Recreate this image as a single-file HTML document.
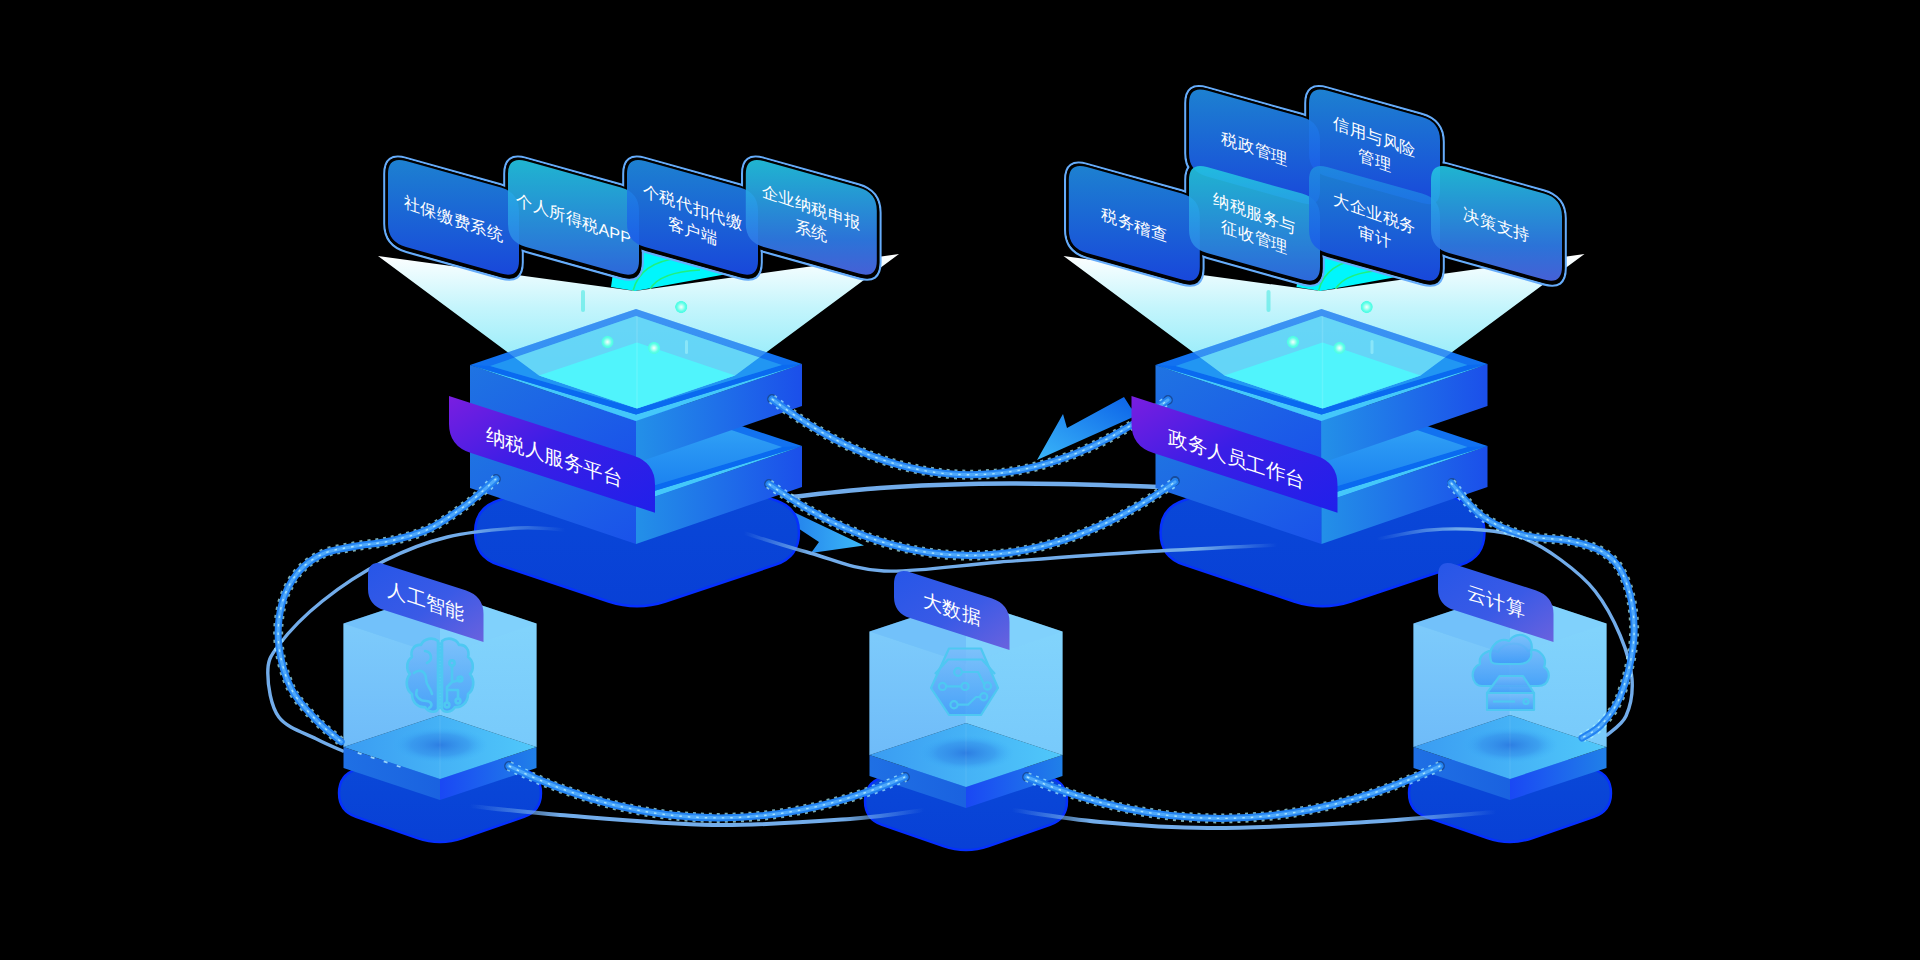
<!DOCTYPE html>
<html><head><meta charset="utf-8"><style>html,body{margin:0;padding:0;background:#000;overflow:hidden}svg{display:block}</style></head>
<body><svg width="1920" height="960" viewBox="0 0 1920 960">
<defs><linearGradient id="gLeftFace" x1="0" y1="0" x2="1" y2="1" gradientUnits="objectBoundingBox"><stop offset="0" stop-color="#1f74e2"/><stop offset="1" stop-color="#1a52ea"/></linearGradient><linearGradient id="gRightFace" x1="0" y1="0" x2="1" y2="0" gradientUnits="objectBoundingBox"><stop offset="0" stop-color="#2390e8"/><stop offset="1" stop-color="#1b4fea"/></linearGradient><linearGradient id="gRibbon" x1="0" y1="0" x2="1" y2="1" gradientUnits="objectBoundingBox"><stop offset="0" stop-color="#7a1ee0"/><stop offset="0.45" stop-color="#3a1ee6"/><stop offset="1" stop-color="#2020ea"/></linearGradient><linearGradient id="gCone" x1="0" y1="0" x2="0" y2="1" gradientUnits="objectBoundingBox"><stop offset="0" stop-color="#ffffff"/><stop offset="0.35" stop-color="#c4f5fc"/><stop offset="0.7" stop-color="#96ecfa"/><stop offset="1" stop-color="#74e2f8"/></linearGradient><linearGradient id="gCardA" x1="0" y1="0" x2="0" y2="1" gradientUnits="objectBoundingBox"><stop offset="0" stop-color="#1f8ae0"/><stop offset="1" stop-color="#1a4deb"/></linearGradient><linearGradient id="gCardB" x1="0" y1="0" x2="0" y2="1" gradientUnits="objectBoundingBox"><stop offset="0" stop-color="#22c2e0"/><stop offset="1" stop-color="#3070ea"/></linearGradient><linearGradient id="gCardC" x1="0" y1="0" x2="0" y2="1" gradientUnits="objectBoundingBox"><stop offset="0" stop-color="#22c2e0"/><stop offset="0.7" stop-color="#2f7be8"/><stop offset="1" stop-color="#4a68e6"/></linearGradient><linearGradient id="gTag" x1="0" y1="0" x2="1" y2="1" gradientUnits="objectBoundingBox"><stop offset="0" stop-color="#2656e8"/><stop offset="0.55" stop-color="#3a5ae6"/><stop offset="1" stop-color="#6a62de"/></linearGradient><linearGradient id="gCubeL" x1="0" y1="0" x2="0" y2="1" gradientUnits="objectBoundingBox"><stop offset="0" stop-color="#86d2fc"/><stop offset="1" stop-color="#6cb6f8"/></linearGradient><linearGradient id="gCubeR" x1="0" y1="0" x2="0" y2="1" gradientUnits="objectBoundingBox"><stop offset="0" stop-color="#86d8fc"/><stop offset="1" stop-color="#74c6fa"/></linearGradient><linearGradient id="gSlabTop" x1="0" y1="0" x2="1" y2="0" gradientUnits="objectBoundingBox"><stop offset="0" stop-color="#3a9cf2"/><stop offset="1" stop-color="#50c8fa"/></linearGradient><linearGradient id="gSlabL" x1="0" y1="0" x2="1" y2="0" gradientUnits="objectBoundingBox"><stop offset="0" stop-color="#1f70e4"/><stop offset="1" stop-color="#1a62e0"/></linearGradient><linearGradient id="gSlabR" x1="0" y1="0" x2="1" y2="0" gradientUnits="objectBoundingBox"><stop offset="0" stop-color="#1a48f4"/><stop offset="1" stop-color="#2080e8"/></linearGradient><linearGradient id="gArrow1" x1="0" y1="0" x2="1" y2="0" gradientUnits="objectBoundingBox"><stop offset="0" stop-color="#1868e6"/><stop offset="1" stop-color="#3cbaf8"/></linearGradient><linearGradient id="gArrow2" x1="1" y1="0" x2="0" y2="1" gradientUnits="objectBoundingBox"><stop offset="0" stop-color="#0a60e8"/><stop offset="1" stop-color="#3ab6f8"/></linearGradient><linearGradient id="gGapTop" x1="0" y1="0" x2="0" y2="1" gradientUnits="objectBoundingBox"><stop offset="0" stop-color="#3ab4f8"/><stop offset="0.5" stop-color="#2a98f4"/><stop offset="1" stop-color="#1a80f0"/></linearGradient><clipPath id="clipTop"><polygon points="636,309 802,364 636,421 470,365"/></clipPath><clipPath id="clipWalls"><polygon points="636,316 782,365 637,408.4 490,366"/></clipPath><linearGradient id="gShadow" x1="0" y1="0" x2="0" y2="1" gradientUnits="objectBoundingBox"><stop offset="0" stop-color="#0a4ad8"/><stop offset="1" stop-color="#0840d6"/></linearGradient><radialGradient id="gOrb" cx="0.5" cy="0.5" r="0.5"><stop offset="0" stop-color="#f4fffe" stop-opacity="1"/><stop offset="0.3" stop-color="#b8fff2" stop-opacity="1"/><stop offset="0.7" stop-color="#5cffe8" stop-opacity="1"/><stop offset="0.92" stop-color="#50fce4" stop-opacity="1"/><stop offset="1" stop-color="#50fce4" stop-opacity="0.3"/></radialGradient><radialGradient id="gFloorShadow" cx="0.5" cy="0.5" r="0.5"><stop offset="0" stop-color="#2a78e0" stop-opacity="0.9"/><stop offset="0.6" stop-color="#3088e8" stop-opacity="0.5"/><stop offset="1" stop-color="#3ab0f8" stop-opacity="0"/></radialGradient><linearGradient id="gIcon" x1="0" y1="0" x2="0" y2="1" gradientUnits="objectBoundingBox"><stop offset="0" stop-color="#7cbcfa"/><stop offset="1" stop-color="#3a98f8"/></linearGradient><linearGradient id="rg1" x1="565" y1="0" x2="470" y2="0" gradientUnits="userSpaceOnUse"><stop offset="0" stop-color="#72acea" stop-opacity="0"/><stop offset="1" stop-color="#72acea" stop-opacity="1"/></linearGradient><linearGradient id="rg2" x1="470" y1="0" x2="924" y2="0" gradientUnits="userSpaceOnUse"><stop offset="0" stop-color="#72acea" stop-opacity="0"/><stop offset="0.2" stop-color="#72acea" stop-opacity="1"/><stop offset="0.82" stop-color="#72acea" stop-opacity="1"/><stop offset="1" stop-color="#72acea" stop-opacity="0"/></linearGradient><linearGradient id="rg3" x1="1012" y1="0" x2="1496" y2="0" gradientUnits="userSpaceOnUse"><stop offset="0" stop-color="#72acea" stop-opacity="0"/><stop offset="0.16" stop-color="#72acea" stop-opacity="1"/><stop offset="0.8" stop-color="#72acea" stop-opacity="1"/><stop offset="1" stop-color="#72acea" stop-opacity="0"/></linearGradient><linearGradient id="rg4" x1="1377" y1="0" x2="1460" y2="0" gradientUnits="userSpaceOnUse"><stop offset="0" stop-color="#72acea" stop-opacity="0"/><stop offset="1" stop-color="#72acea" stop-opacity="1"/></linearGradient><linearGradient id="rg5" x1="744" y1="0" x2="1277" y2="0" gradientUnits="userSpaceOnUse"><stop offset="0" stop-color="#72acea" stop-opacity="0"/><stop offset="0.12" stop-color="#72acea" stop-opacity="1"/><stop offset="0.85" stop-color="#72acea" stop-opacity="1"/><stop offset="1" stop-color="#72acea" stop-opacity="0"/></linearGradient></defs>
<rect width="1920" height="960" fill="#000"/>
<path d="M760,496 L864,545.5 L811,553 L819,542 L800,529.5 L760,514 Z" fill="url(#gArrow1)"/>
<g transform="translate(0,0)"><path d="M475.0,532.5 Q475.0,508.0 498.2,500.3 L608.5,463.5 Q637.0,454.0 665.5,463.5 L775.8,500.3 Q799.0,508.0 799.0,532.5 L799.0,532.5 Q799.0,557.0 775.8,564.7 L665.5,601.5 Q637.0,611.0 608.5,601.5 L498.2,564.7 Q475.0,557.0 475.0,532.5 Z" fill="url(#gShadow)" stroke="#0630ff" stroke-width="2.4"/></g>
<g transform="translate(685.5,0)"><path d="M475.0,532.5 Q475.0,508.0 498.2,500.3 L608.5,463.5 Q637.0,454.0 665.5,463.5 L775.8,500.3 Q799.0,508.0 799.0,532.5 L799.0,532.5 Q799.0,557.0 775.8,564.7 L665.5,601.5 Q637.0,611.0 608.5,601.5 L498.2,564.7 Q475.0,557.0 475.0,532.5 Z" fill="url(#gShadow)" stroke="#0630ff" stroke-width="2.4"/></g>
<g transform="translate(0,0)"><path d="M339.0,793.0 Q339.0,775.0 356.1,769.3 L417.3,748.7 Q440.0,741.0 462.7,748.7 L523.9,769.3 Q541.0,775.0 541.0,793.0 L541.0,793.0 Q541.0,811.0 524.0,816.9 L462.7,838.1 Q440.0,846.0 417.3,838.1 L356.0,816.9 Q339.0,811.0 339.0,793.0 Z" fill="url(#gShadow)" stroke="#0630ff" stroke-width="2.4"/></g>
<g transform="translate(526,8)"><path d="M339.0,793.0 Q339.0,775.0 356.1,769.3 L417.3,748.7 Q440.0,741.0 462.7,748.7 L523.9,769.3 Q541.0,775.0 541.0,793.0 L541.0,793.0 Q541.0,811.0 524.0,816.9 L462.7,838.1 Q440.0,846.0 417.3,838.1 L356.0,816.9 Q339.0,811.0 339.0,793.0 Z" fill="url(#gShadow)" stroke="#0630ff" stroke-width="2.4"/></g>
<g transform="translate(1070,0)"><path d="M339.0,793.0 Q339.0,775.0 356.1,769.3 L417.3,748.7 Q440.0,741.0 462.7,748.7 L523.9,769.3 Q541.0,775.0 541.0,793.0 L541.0,793.0 Q541.0,811.0 524.0,816.9 L462.7,838.1 Q440.0,846.0 417.3,838.1 L356.0,816.9 Q339.0,811.0 339.0,793.0 Z" fill="url(#gShadow)" stroke="#0630ff" stroke-width="2.4"/></g>
<path d="M565.0,530.0 C557.3,529.7 538.6,526.8 519.0,528.0 C499.4,529.2 469.8,531.6 447.5,537.0 C425.2,542.4 405.8,549.9 385.0,560.6 C364.2,571.3 340.2,586.9 322.5,601.0 C304.8,615.1 287.9,633.0 278.8,645.0 C269.6,657.0 267.8,661.0 267.8,673.0 C267.8,685.0 270.7,706.0 278.8,717.0 C286.8,728.0 305.3,733.1 316.0,738.8 C326.7,744.4 338.3,749.0 342.8,751.0" fill="none" stroke="url(#rg1)" stroke-width="3.4" stroke-linecap="round"/>
<path d="M470.0,806.0 C485.0,807.5 519.5,811.8 560.0,815.0 C600.5,818.2 664.7,824.3 713.0,825.0 C761.3,825.7 814.8,821.5 850.0,819.0 C885.2,816.5 911.7,811.5 924.0,810.0" fill="none" stroke="url(#rg2)" stroke-width="4" stroke-linecap="round"/>
<path d="M1012.0,810.0 C1026.7,812.0 1067.3,819.0 1100.0,822.0 C1132.7,825.0 1166.3,827.8 1208.0,828.0 C1249.7,828.2 1302.0,825.7 1350.0,823.0 C1398.0,820.3 1471.7,813.8 1496.0,812.0" fill="none" stroke="url(#rg3)" stroke-width="4" stroke-linecap="round"/>
<path d="M1377.0,539.0 C1385.8,537.5 1412.5,531.5 1430.0,530.0 C1447.5,528.5 1466.5,528.7 1482.0,530.0 C1497.5,531.3 1509.8,533.0 1523.0,538.0 C1536.2,543.0 1549.0,551.2 1561.0,560.0 C1573.0,568.8 1585.2,578.5 1595.0,591.0 C1604.8,603.5 1613.8,620.3 1620.0,635.0 C1626.2,649.7 1631.0,665.5 1632.0,679.0 C1633.0,692.5 1630.2,706.7 1626.0,716.0 C1621.8,725.3 1610.2,731.8 1607.0,735.0" fill="none" stroke="url(#rg4)" stroke-width="3.4" stroke-linecap="round"/>
<path d="M790.0,497.0 C805.0,495.5 850.0,490.2 880.0,488.0 C910.0,485.8 940.0,484.7 970.0,484.0 C1000.0,483.3 1028.3,483.5 1060.0,484.0 C1091.7,484.5 1143.3,486.5 1160.0,487.0" fill="none" stroke="#72acea" stroke-width="4.5" stroke-linecap="round"/>
<path d="M744.0,533.0 C755.0,536.3 786.7,546.7 810.0,553.0 C833.3,559.3 852.3,569.5 884.0,571.0 C915.7,572.5 957.3,565.2 1000.0,562.0 C1042.7,558.8 1093.8,554.8 1140.0,552.0 C1186.2,549.2 1254.2,546.2 1277.0,545.0" fill="none" stroke="url(#rg5)" stroke-width="3.4" stroke-linecap="round"/>
<path d="M1037,460 L1063,414 L1067,428 L1124,397 L1131,408 L1140,414 Z" fill="url(#gArrow2)"/>
<g transform="translate(0,0)">
<polygon points="611.0,287.0 616.0,252.0 700.0,252.0 727.0,274.0 635.0,291.0" fill="#00f6fc"/>
<path d="M633,291 Q640,262 680,258" fill="none" stroke="#20f080" stroke-width="1.5"/><path d="M650,289 Q660,272 700,270" fill="none" stroke="#20f080" stroke-width="1.5"/>
<polygon points="378.0,256.0 635.0,291.0 899.0,254.0 735.0,375.5 637.0,408.4 539.0,375.6" fill="url(#gCone)"/>
</g>
<g transform="translate(685.5,0)">
<polygon points="611.0,287.0 616.0,252.0 700.0,252.0 727.0,274.0 635.0,291.0" fill="#00f6fc"/>
<path d="M633,291 Q640,262 680,258" fill="none" stroke="#20f080" stroke-width="1.5"/><path d="M650,289 Q660,272 700,270" fill="none" stroke="#20f080" stroke-width="1.5"/>
<polygon points="378.0,256.0 635.0,291.0 899.0,254.0 735.0,375.5 637.0,408.4 539.0,375.6" fill="url(#gCone)"/>
</g>
<g transform="translate(0,0)">
<polygon points="470.0,447.0 636.0,503.0 636.0,544.0 470.0,488.0" fill="url(#gLeftFace)"/>
<polygon points="636.0,503.0 802.0,446.0 802.0,487.0 636.0,544.0" fill="url(#gRightFace)"/>
<polygon points="636.0,391.0 802.0,446.0 636.0,503.0 470.0,447.0" fill="#1272f0"/>
<polygon points="470.0,447.0 636.0,503.0 802.0,446.0 636.0,496.5" fill="#44c8fa"/>
<polygon points="470.0,447.0 636.0,496.5 802.0,446.0 782.0,447.0 637.0,490.4 490.0,448.0" fill="#0a6af0"/>
<polygon points="636.0,398.0 782.0,447.0 637.0,490.4 490.0,448.0" fill="url(#gGapTop)"/>
<polygon points="470.0,365.0 636.0,421.0 636.0,463.0 470.0,407.0" fill="url(#gLeftFace)"/>
<polygon points="636.0,421.0 802.0,364.0 802.0,406.0 636.0,463.0" fill="url(#gRightFace)"/>
<polygon points="636.0,309.0 802.0,364.0 636.0,421.0 470.0,365.0" fill="#1272f0"/>
<polygon points="470.0,365.0 636.0,421.0 802.0,364.0 636.0,414.5" fill="#44c8fa"/>
<polygon points="470.0,365.0 636.0,414.5 802.0,364.0 782.0,365.0 637.0,408.4 490.0,366.0" fill="#0a6af0"/>
<polygon points="636.0,316.0 782.0,365.0 637.0,408.4 490.0,366.0" fill="#2196f3"/>
<polygon points="378.0,256.0 635.0,291.0 899.0,254.0 735.0,375.5 637.0,408.4 539.0,375.6" fill="url(#gCone)" opacity="0.25" clip-path="url(#clipTop)"/>
<polygon points="378.0,256.0 635.0,291.0 899.0,254.0 735.0,375.5 637.0,408.4 539.0,375.6" fill="#6ee0f8" opacity="0.8" clip-path="url(#clipWalls)"/>
<polygon points="637.0,342.5 735.0,375.5 637.0,408.4 539.0,375.6" fill="#50f4fc"/>
<line x1="637" y1="316" x2="637" y2="408" stroke="#ffffff" stroke-opacity="0.12" stroke-width="1.5"/>
<circle cx="772" cy="399" r="4" fill="#2a8cf4" stroke="#184c9c" stroke-width="1.8"/>
<circle cx="769" cy="484" r="4" fill="#2a8cf4" stroke="#184c9c" stroke-width="1.8"/>
<circle cx="496" cy="479" r="4" fill="#2a8cf4" stroke="#184c9c" stroke-width="1.8"/>
</g>
<g transform="translate(685.5,0)">
<polygon points="470.0,447.0 636.0,503.0 636.0,544.0 470.0,488.0" fill="url(#gLeftFace)"/>
<polygon points="636.0,503.0 802.0,446.0 802.0,487.0 636.0,544.0" fill="url(#gRightFace)"/>
<polygon points="636.0,391.0 802.0,446.0 636.0,503.0 470.0,447.0" fill="#1272f0"/>
<polygon points="470.0,447.0 636.0,503.0 802.0,446.0 636.0,496.5" fill="#44c8fa"/>
<polygon points="470.0,447.0 636.0,496.5 802.0,446.0 782.0,447.0 637.0,490.4 490.0,448.0" fill="#0a6af0"/>
<polygon points="636.0,398.0 782.0,447.0 637.0,490.4 490.0,448.0" fill="url(#gGapTop)"/>
<polygon points="470.0,365.0 636.0,421.0 636.0,463.0 470.0,407.0" fill="url(#gLeftFace)"/>
<polygon points="636.0,421.0 802.0,364.0 802.0,406.0 636.0,463.0" fill="url(#gRightFace)"/>
<polygon points="636.0,309.0 802.0,364.0 636.0,421.0 470.0,365.0" fill="#1272f0"/>
<polygon points="470.0,365.0 636.0,421.0 802.0,364.0 636.0,414.5" fill="#44c8fa"/>
<polygon points="470.0,365.0 636.0,414.5 802.0,364.0 782.0,365.0 637.0,408.4 490.0,366.0" fill="#0a6af0"/>
<polygon points="636.0,316.0 782.0,365.0 637.0,408.4 490.0,366.0" fill="#2196f3"/>
<polygon points="378.0,256.0 635.0,291.0 899.0,254.0 735.0,375.5 637.0,408.4 539.0,375.6" fill="url(#gCone)" opacity="0.25" clip-path="url(#clipTop)"/>
<polygon points="378.0,256.0 635.0,291.0 899.0,254.0 735.0,375.5 637.0,408.4 539.0,375.6" fill="#6ee0f8" opacity="0.8" clip-path="url(#clipWalls)"/>
<polygon points="637.0,342.5 735.0,375.5 637.0,408.4 539.0,375.6" fill="#50f4fc"/>
<line x1="637" y1="316" x2="637" y2="408" stroke="#ffffff" stroke-opacity="0.12" stroke-width="1.5"/>
<circle cx="482.5" cy="400" r="4" fill="#2a8cf4" stroke="#184c9c" stroke-width="1.8"/>
<circle cx="489.5" cy="481" r="4" fill="#2a8cf4" stroke="#184c9c" stroke-width="1.8"/>
<circle cx="766.5" cy="483" r="4" fill="#2a8cf4" stroke="#184c9c" stroke-width="1.8"/>
</g>
<g transform="translate(0,0)">
<circle cx="681.2" cy="307" r="6.2" fill="url(#gOrb)"/>
<circle cx="607.5" cy="342" r="6.2" fill="url(#gOrb)"/>
<circle cx="654" cy="348" r="6.2" fill="url(#gOrb)"/>
<rect x="581" y="290" width="4" height="22" rx="2" fill="#40e8e0" opacity="0.55"/>
<rect x="685" y="340" width="3" height="14" rx="1.5" fill="#a8f4fc" opacity="0.55"/>
</g>
<g transform="translate(685.5,0)">
<circle cx="681.2" cy="307" r="6.2" fill="url(#gOrb)"/>
<circle cx="607.5" cy="342" r="6.2" fill="url(#gOrb)"/>
<circle cx="654" cy="348" r="6.2" fill="url(#gOrb)"/>
<rect x="581" y="290" width="4" height="22" rx="2" fill="#40e8e0" opacity="0.55"/>
<rect x="685" y="340" width="3" height="14" rx="1.5" fill="#a8f4fc" opacity="0.55"/>
</g>
<g transform="translate(0,0)">
<polygon points="343.5,747.0 440.0,779.0 440.0,800.0 343.5,768.0" fill="url(#gSlabL)"/>
<polygon points="440.0,779.0 536.5,747.0 536.5,768.0 440.0,800.0" fill="url(#gSlabR)"/>
<polygon points="343.5,623.5 440.0,591.5 440.0,715.0 343.5,747.0" fill="#72c2fa"/>
<polygon points="440.0,591.5 536.5,623.5 536.5,747.0 440.0,715.0" fill="#7ccefc"/>
<polygon points="440.0,715.0 536.5,747.0 440.0,779.0 343.5,747.0" fill="url(#gSlabTop)"/>
<ellipse cx="440" cy="745" rx="48" ry="18" fill="url(#gFloorShadow)"/>
<line x1="440" y1="715" x2="440" y2="779" stroke="#ffffff" stroke-opacity="0.08"/>
<polygon points="343.5,623.5 440.0,655.5 440.0,715.0 343.5,747.0" fill="url(#gCubeL)" fill-opacity="0.55"/>
<polygon points="440.0,655.5 536.5,623.5 536.5,747.0 440.0,715.0" fill="url(#gCubeR)" fill-opacity="0.55"/>
<polygon points="343.5,623.5 440.0,655.5 440.0,591.5" fill="#74c0f9" fill-opacity="0.35"/>
<polygon points="440.0,655.5 536.5,623.5 440.0,591.5" fill="#8ad6fc" fill-opacity="0.35"/>
<line x1="440" y1="655.5" x2="440" y2="715" stroke="#ffffff" stroke-opacity="0.15"/>
<g fill="url(#gIcon)" fill-opacity="0.75" stroke="#4ec8f2" stroke-width="2.6" stroke-linejoin="round" stroke-linecap="round">
<path d="M438,641 C433,637 424,638 421,645 C414,644 410,651 412,657 C406,661 406,670 410,674 C405,680 406,690 412,694 C412,702 418,708 425,707 C429,713 436,713 438,709 Z"/>
<path d="M442,641 C447,637 456,638 459,645 C466,644 470,651 468,657 C474,661 474,670 470,674 C475,680 474,690 468,694 C468,702 462,708 455,707 C451,713 444,713 442,709 Z"/>
<path d="M440,643 V709" stroke-width="2" stroke-dasharray="1.6 1.6" fill="none"/>
<path d="M425,651 C432,652 433,660 427,663" fill="none"/>
<path d="M414,673 C420,668 426,672 426,679 C426,686 431,688 432,694" fill="none"/>
<path d="M417,690 C414,697 421,701 426,701 C432,701 433,706 429,708" fill="none"/>
<path d="M452,666 V682 L447,687 V702 M447,690 H458 V698 M452,682 L460,680" fill="none"/>
<circle cx="452" cy="663" r="2.6" fill="none"/><circle cx="460" cy="679" r="2.4" fill="none"/><circle cx="458" cy="701" r="2.4" fill="none"/><circle cx="447" cy="705" r="2.4" fill="none"/>
</g>
<circle cx="509" cy="766" r="4" fill="#2a8cf4" stroke="#184c9c" stroke-width="1.8"/>
<path d="M385.0,564.4 L465.5,590.2 Q483.5,596.0 483.5,614.0 L483.5,642.0 L384.0,610.1 Q368.0,605.0 368.0,589.0 L368.0,576.0 Q368.0,559.0 385.0,564.4 Z" fill="url(#gTag)"/>
<text transform="matrix(1,0.34,0,1,426,601)" font-family="Liberation Sans, sans-serif" font-size="19" fill="#ffffff" text-anchor="middle" dominant-baseline="central">人工智能</text>
</g>
<g transform="translate(526,8)">
<polygon points="343.5,747.0 440.0,779.0 440.0,800.0 343.5,768.0" fill="url(#gSlabL)"/>
<polygon points="440.0,779.0 536.5,747.0 536.5,768.0 440.0,800.0" fill="url(#gSlabR)"/>
<polygon points="343.5,623.5 440.0,591.5 440.0,715.0 343.5,747.0" fill="#72c2fa"/>
<polygon points="440.0,591.5 536.5,623.5 536.5,747.0 440.0,715.0" fill="#7ccefc"/>
<polygon points="440.0,715.0 536.5,747.0 440.0,779.0 343.5,747.0" fill="url(#gSlabTop)"/>
<ellipse cx="440" cy="745" rx="48" ry="18" fill="url(#gFloorShadow)"/>
<line x1="440" y1="715" x2="440" y2="779" stroke="#ffffff" stroke-opacity="0.08"/>
<polygon points="343.5,623.5 440.0,655.5 440.0,715.0 343.5,747.0" fill="url(#gCubeL)" fill-opacity="0.55"/>
<polygon points="440.0,655.5 536.5,623.5 536.5,747.0 440.0,715.0" fill="url(#gCubeR)" fill-opacity="0.55"/>
<polygon points="343.5,623.5 440.0,655.5 440.0,591.5" fill="#74c0f9" fill-opacity="0.35"/>
<polygon points="440.0,655.5 536.5,623.5 440.0,591.5" fill="#8ad6fc" fill-opacity="0.35"/>
<line x1="440" y1="655.5" x2="440" y2="715" stroke="#ffffff" stroke-opacity="0.15"/>
<g fill="url(#gIcon)" fill-opacity="0.75" stroke="#4ec8f2" stroke-width="2.2" stroke-linejoin="round">
<polygon points="423,640.5 455,640.5 472,680 455,707 423,707 405,680"/>
<path d="M409,666 L422,651.5 H456 L469,666" fill="none"/>
<path d="M436,664 H452 L459,678 M420,678.4 H435 M432,696.7 H442 L450,689 H454" fill="none"/>
<circle cx="432" cy="664" r="3.8" fill="none"/><circle cx="461.5" cy="678" r="3.6" fill="none"/><circle cx="416.5" cy="678.4" r="3.6" fill="none"/><circle cx="439" cy="678.4" r="3.6" fill="none"/><circle cx="428" cy="696.7" r="3.6" fill="none"/><circle cx="457.7" cy="688.7" r="3.6" fill="none"/>
</g>
<circle cx="379" cy="769" r="4" fill="#2a8cf4" stroke="#184c9c" stroke-width="1.8"/>
<circle cx="501" cy="769" r="4" fill="#2a8cf4" stroke="#184c9c" stroke-width="1.8"/>
<path d="M385.0,564.4 L465.5,590.2 Q483.5,596.0 483.5,614.0 L483.5,642.0 L384.0,610.1 Q368.0,605.0 368.0,589.0 L368.0,576.0 Q368.0,559.0 385.0,564.4 Z" fill="url(#gTag)"/>
<text transform="matrix(1,0.34,0,1,426,601)" font-family="Liberation Sans, sans-serif" font-size="19" fill="#ffffff" text-anchor="middle" dominant-baseline="central">大数据</text>
</g>
<g transform="translate(1070,0)">
<polygon points="343.5,747.0 440.0,779.0 440.0,800.0 343.5,768.0" fill="url(#gSlabL)"/>
<polygon points="440.0,779.0 536.5,747.0 536.5,768.0 440.0,800.0" fill="url(#gSlabR)"/>
<polygon points="343.5,623.5 440.0,591.5 440.0,715.0 343.5,747.0" fill="#72c2fa"/>
<polygon points="440.0,591.5 536.5,623.5 536.5,747.0 440.0,715.0" fill="#7ccefc"/>
<polygon points="440.0,715.0 536.5,747.0 440.0,779.0 343.5,747.0" fill="url(#gSlabTop)"/>
<ellipse cx="440" cy="745" rx="48" ry="18" fill="url(#gFloorShadow)"/>
<line x1="440" y1="715" x2="440" y2="779" stroke="#ffffff" stroke-opacity="0.08"/>
<polygon points="343.5,623.5 440.0,655.5 440.0,715.0 343.5,747.0" fill="url(#gCubeL)" fill-opacity="0.55"/>
<polygon points="440.0,655.5 536.5,623.5 536.5,747.0 440.0,715.0" fill="url(#gCubeR)" fill-opacity="0.55"/>
<polygon points="343.5,623.5 440.0,655.5 440.0,591.5" fill="#74c0f9" fill-opacity="0.35"/>
<polygon points="440.0,655.5 536.5,623.5 440.0,591.5" fill="#8ad6fc" fill-opacity="0.35"/>
<line x1="440" y1="655.5" x2="440" y2="715" stroke="#ffffff" stroke-opacity="0.15"/>
<g fill="url(#gIcon)" fill-opacity="0.8" stroke="#4ec8f2" stroke-width="2.2" stroke-linejoin="round">
<path d="M412,686 C401,686 399,668 410,664 C408,654 420,648 428,652 C434,641 452,641 458,651 C468,647 478,657 474,667 C482,671 480,686 468,686 Z"/>
<path d="M421,661 C417,647 429,637 439,641 C447,629 466,636 461,652 C463,659 457,664 449,664 L430,664 C425,664 421,663 421,661 Z"/>
<polygon points="429.7,676 453,676 464,693 417,693"/>
<rect x="417" y="693" width="47" height="17"/>
<path d="M423,701.5 H445" fill="none"/><circle cx="456" cy="701.5" r="2.5" fill="none"/>
</g>
<circle cx="370" cy="766" r="4" fill="#2a8cf4" stroke="#184c9c" stroke-width="1.8"/>
<path d="M385.0,564.4 L465.5,590.2 Q483.5,596.0 483.5,614.0 L483.5,642.0 L384.0,610.1 Q368.0,605.0 368.0,589.0 L368.0,576.0 Q368.0,559.0 385.0,564.4 Z" fill="url(#gTag)"/>
<text transform="matrix(1,0.34,0,1,426,601)" font-family="Liberation Sans, sans-serif" font-size="19" fill="#ffffff" text-anchor="middle" dominant-baseline="central">云计算</text>
</g>
<path d="M772,399 Q970,550 1168,400" fill="none" stroke="#b0f6ff" stroke-width="10" stroke-dasharray="3 5" stroke-opacity="0.7"/><path d="M772,399 Q970,550 1168,400" fill="none" stroke="#2282f2" stroke-width="7" stroke-linecap="round"/><path d="M772,399 Q970,550 1168,400" fill="none" stroke="#4ea8fa" stroke-width="3.2" stroke-linecap="round"/><path d="M772,399 Q970,550 1168,400" fill="none" stroke="#a8e4ff" stroke-width="1.4" stroke-dasharray="2.5 6"/>
<path d="M769,484 Q970,628 1175,482" fill="none" stroke="#b0f6ff" stroke-width="10" stroke-dasharray="3 5" stroke-opacity="0.7"/><path d="M769,484 Q970,628 1175,482" fill="none" stroke="#2282f2" stroke-width="7" stroke-linecap="round"/><path d="M769,484 Q970,628 1175,482" fill="none" stroke="#4ea8fa" stroke-width="3.2" stroke-linecap="round"/><path d="M769,484 Q970,628 1175,482" fill="none" stroke="#a8e4ff" stroke-width="1.4" stroke-dasharray="2.5 6"/>
<path d="M496.0,479.0 C491.0,483.3 477.2,496.7 466.0,505.0 C454.8,513.3 441.4,523.0 428.8,529.0 C416.1,535.0 402.5,538.1 390.0,541.0 C377.5,543.9 365.0,544.3 353.8,546.5 C342.5,548.7 331.9,549.6 322.5,554.0 C313.1,558.4 304.3,564.7 297.5,573.0 C290.7,581.3 285.0,592.0 281.9,604.0 C278.8,616.0 277.2,630.9 278.8,645.0 C280.3,659.1 285.0,676.2 291.2,688.8 C297.5,701.2 307.9,711.1 316.2,720.0 C324.6,728.9 337.1,738.2 341.2,741.9" fill="none" stroke="#b0f6ff" stroke-width="10" stroke-dasharray="3 5" stroke-opacity="0.7"/><path d="M496.0,479.0 C491.0,483.3 477.2,496.7 466.0,505.0 C454.8,513.3 441.4,523.0 428.8,529.0 C416.1,535.0 402.5,538.1 390.0,541.0 C377.5,543.9 365.0,544.3 353.8,546.5 C342.5,548.7 331.9,549.6 322.5,554.0 C313.1,558.4 304.3,564.7 297.5,573.0 C290.7,581.3 285.0,592.0 281.9,604.0 C278.8,616.0 277.2,630.9 278.8,645.0 C280.3,659.1 285.0,676.2 291.2,688.8 C297.5,701.2 307.9,711.1 316.2,720.0 C324.6,728.9 337.1,738.2 341.2,741.9" fill="none" stroke="#2282f2" stroke-width="7" stroke-linecap="round"/><path d="M496.0,479.0 C491.0,483.3 477.2,496.7 466.0,505.0 C454.8,513.3 441.4,523.0 428.8,529.0 C416.1,535.0 402.5,538.1 390.0,541.0 C377.5,543.9 365.0,544.3 353.8,546.5 C342.5,548.7 331.9,549.6 322.5,554.0 C313.1,558.4 304.3,564.7 297.5,573.0 C290.7,581.3 285.0,592.0 281.9,604.0 C278.8,616.0 277.2,630.9 278.8,645.0 C280.3,659.1 285.0,676.2 291.2,688.8 C297.5,701.2 307.9,711.1 316.2,720.0 C324.6,728.9 337.1,738.2 341.2,741.9" fill="none" stroke="#4ea8fa" stroke-width="3.2" stroke-linecap="round"/><path d="M496.0,479.0 C491.0,483.3 477.2,496.7 466.0,505.0 C454.8,513.3 441.4,523.0 428.8,529.0 C416.1,535.0 402.5,538.1 390.0,541.0 C377.5,543.9 365.0,544.3 353.8,546.5 C342.5,548.7 331.9,549.6 322.5,554.0 C313.1,558.4 304.3,564.7 297.5,573.0 C290.7,581.3 285.0,592.0 281.9,604.0 C278.8,616.0 277.2,630.9 278.8,645.0 C280.3,659.1 285.0,676.2 291.2,688.8 C297.5,701.2 307.9,711.1 316.2,720.0 C324.6,728.9 337.1,738.2 341.2,741.9" fill="none" stroke="#a8e4ff" stroke-width="1.4" stroke-dasharray="2.5 6"/>
<path d="M1451.0,483.0 C1456.2,488.5 1470.0,507.3 1482.0,516.0 C1494.0,524.7 1508.3,530.8 1523.0,535.0 C1537.7,539.2 1557.0,538.3 1570.0,541.0 C1583.0,543.7 1592.7,546.3 1601.0,551.0 C1609.3,555.7 1614.8,560.2 1620.0,569.0 C1625.2,577.8 1629.8,591.0 1632.0,604.0 C1634.2,617.0 1635.0,631.5 1633.0,647.0 C1631.0,662.5 1625.3,684.0 1620.0,697.0 C1614.7,710.0 1607.3,718.2 1601.0,725.0 C1594.7,731.8 1585.2,735.8 1582.0,738.0" fill="none" stroke="#b0f6ff" stroke-width="10" stroke-dasharray="3 5" stroke-opacity="0.7"/><path d="M1451.0,483.0 C1456.2,488.5 1470.0,507.3 1482.0,516.0 C1494.0,524.7 1508.3,530.8 1523.0,535.0 C1537.7,539.2 1557.0,538.3 1570.0,541.0 C1583.0,543.7 1592.7,546.3 1601.0,551.0 C1609.3,555.7 1614.8,560.2 1620.0,569.0 C1625.2,577.8 1629.8,591.0 1632.0,604.0 C1634.2,617.0 1635.0,631.5 1633.0,647.0 C1631.0,662.5 1625.3,684.0 1620.0,697.0 C1614.7,710.0 1607.3,718.2 1601.0,725.0 C1594.7,731.8 1585.2,735.8 1582.0,738.0" fill="none" stroke="#2282f2" stroke-width="7" stroke-linecap="round"/><path d="M1451.0,483.0 C1456.2,488.5 1470.0,507.3 1482.0,516.0 C1494.0,524.7 1508.3,530.8 1523.0,535.0 C1537.7,539.2 1557.0,538.3 1570.0,541.0 C1583.0,543.7 1592.7,546.3 1601.0,551.0 C1609.3,555.7 1614.8,560.2 1620.0,569.0 C1625.2,577.8 1629.8,591.0 1632.0,604.0 C1634.2,617.0 1635.0,631.5 1633.0,647.0 C1631.0,662.5 1625.3,684.0 1620.0,697.0 C1614.7,710.0 1607.3,718.2 1601.0,725.0 C1594.7,731.8 1585.2,735.8 1582.0,738.0" fill="none" stroke="#4ea8fa" stroke-width="3.2" stroke-linecap="round"/><path d="M1451.0,483.0 C1456.2,488.5 1470.0,507.3 1482.0,516.0 C1494.0,524.7 1508.3,530.8 1523.0,535.0 C1537.7,539.2 1557.0,538.3 1570.0,541.0 C1583.0,543.7 1592.7,546.3 1601.0,551.0 C1609.3,555.7 1614.8,560.2 1620.0,569.0 C1625.2,577.8 1629.8,591.0 1632.0,604.0 C1634.2,617.0 1635.0,631.5 1633.0,647.0 C1631.0,662.5 1625.3,684.0 1620.0,697.0 C1614.7,710.0 1607.3,718.2 1601.0,725.0 C1594.7,731.8 1585.2,735.8 1582.0,738.0" fill="none" stroke="#a8e4ff" stroke-width="1.4" stroke-dasharray="2.5 6"/>
<path d="M509,766 Q707,864 905,777" fill="none" stroke="#b0f6ff" stroke-width="10" stroke-dasharray="3 5" stroke-opacity="0.7"/><path d="M509,766 Q707,864 905,777" fill="none" stroke="#2282f2" stroke-width="7" stroke-linecap="round"/><path d="M509,766 Q707,864 905,777" fill="none" stroke="#4ea8fa" stroke-width="3.2" stroke-linecap="round"/><path d="M509,766 Q707,864 905,777" fill="none" stroke="#a8e4ff" stroke-width="1.4" stroke-dasharray="2.5 6"/>
<path d="M1027,777 Q1233,865 1440,766" fill="none" stroke="#b0f6ff" stroke-width="10" stroke-dasharray="3 5" stroke-opacity="0.7"/><path d="M1027,777 Q1233,865 1440,766" fill="none" stroke="#2282f2" stroke-width="7" stroke-linecap="round"/><path d="M1027,777 Q1233,865 1440,766" fill="none" stroke="#4ea8fa" stroke-width="3.2" stroke-linecap="round"/><path d="M1027,777 Q1233,865 1440,766" fill="none" stroke="#a8e4ff" stroke-width="1.4" stroke-dasharray="2.5 6"/>
<rect x="358" y="752.0" width="4" height="1.8" fill="#b8f0ff" opacity="0.8" transform="rotate(18 358 752.0)"/>
<rect x="371" y="756.3" width="4" height="1.8" fill="#b8f0ff" opacity="0.8" transform="rotate(18 371 756.3)"/>
<rect x="384" y="760.6" width="4" height="1.8" fill="#b8f0ff" opacity="0.8" transform="rotate(18 384 760.6)"/>
<rect x="397" y="764.9" width="4" height="1.8" fill="#b8f0ff" opacity="0.8" transform="rotate(18 397 764.9)"/>
<g transform="translate(0,0)">
<path d="M449.0,396.0 L633.0,455.6 Q655.0,462.7 655.0,484.7 L655.0,512.7 L471.0,453.1 Q449.0,446.0 449.0,424.0 L449.0,396.0 Z" fill="url(#gRibbon)"/>
<text transform="matrix(1,0.333,0,1,554,457)" font-family="Liberation Sans, sans-serif" font-size="19.5" fill="#ffffff" text-anchor="middle" dominant-baseline="central">纳税人服务平台</text>
</g>
<g transform="translate(682.5,0)">
<path d="M449.0,396.0 L633.0,455.6 Q655.0,462.7 655.0,484.7 L655.0,512.7 L471.0,453.1 Q449.0,446.0 449.0,424.0 L449.0,396.0 Z" fill="url(#gRibbon)"/>
<text transform="matrix(1,0.333,0,1,554,458.5)" font-family="Liberation Sans, sans-serif" font-size="19.5" fill="#ffffff" text-anchor="middle" dominant-baseline="central">政务人员工作台</text>
</g>
<path d="M406.3,158.0 L500.7,184.4 Q522.7,190.6 522.7,212.6 L522.7,262.6 Q522.7,284.6 500.7,278.4 L406.3,252.0 Q384.3,245.8 384.3,223.8 L384.3,173.8 Q384.3,151.8 406.3,158.0 Z" fill="#000" stroke="#66acfa" stroke-width="2.2"/>
<path d="M526.3,158.0 L620.7,184.4 Q642.7,190.6 642.7,212.6 L642.7,262.6 Q642.7,284.6 620.7,278.4 L526.3,252.0 Q504.3,245.8 504.3,223.8 L504.3,173.8 Q504.3,151.8 526.3,158.0 Z" fill="#000" stroke="#66acfa" stroke-width="2.2"/>
<path d="M645.3,158.0 L739.7,184.4 Q761.7,190.6 761.7,212.6 L761.7,262.6 Q761.7,284.6 739.7,278.4 L645.3,252.0 Q623.3,245.8 623.3,223.8 L623.3,173.8 Q623.3,151.8 645.3,158.0 Z" fill="#000" stroke="#66acfa" stroke-width="2.2"/>
<path d="M764.1,158.0 L858.5,184.4 Q880.5,190.6 880.5,212.6 L880.5,262.6 Q880.5,284.6 858.5,278.4 L764.1,252.0 Q742.1,245.8 742.1,223.8 L742.1,173.8 Q742.1,151.8 764.1,158.0 Z" fill="#000" stroke="#66acfa" stroke-width="2.2"/>
<path d="M406.0,158.8 L501.0,185.4 Q521.5,191.2 521.5,211.7 L521.5,262.2 Q521.5,282.7 501.0,276.9 L406.0,250.3 Q385.5,244.6 385.5,224.1 L385.5,173.6 Q385.5,153.1 406.0,158.8 Z" fill="#000"/>
<path d="M526.0,158.8 L621.0,185.4 Q641.5,191.2 641.5,211.7 L641.5,262.2 Q641.5,282.7 621.0,276.9 L526.0,250.3 Q505.5,244.6 505.5,224.1 L505.5,173.6 Q505.5,153.1 526.0,158.8 Z" fill="#000"/>
<path d="M645.0,158.8 L740.0,185.4 Q760.5,191.2 760.5,211.7 L760.5,262.2 Q760.5,282.7 740.0,276.9 L645.0,250.3 Q624.5,244.6 624.5,224.1 L624.5,173.6 Q624.5,153.1 645.0,158.8 Z" fill="#000"/>
<path d="M763.8,158.8 L858.8,185.4 Q879.3,191.2 879.3,211.7 L879.3,262.2 Q879.3,282.7 858.8,276.9 L763.8,250.3 Q743.3,244.6 743.3,224.1 L743.3,173.6 Q743.3,153.1 763.8,158.8 Z" fill="#000"/>
<path d="M406.0,161.0 L501.0,187.6 Q519.0,192.7 519.0,210.7 L519.0,260.7 Q519.0,278.7 501.0,273.6 L406.0,247.0 Q388.0,242.0 388.0,224.0 L388.0,174.0 Q388.0,156.0 406.0,161.0 Z" fill="url(#gCardA)" opacity="0.93"/>
<text transform="matrix(1,0.35,0,1,453.5,219.3)" font-family="Liberation Sans, sans-serif" font-size="16.2" fill="#ffffff" text-anchor="middle" dominant-baseline="central">社保缴费系统</text>
<path d="M526.0,161.0 L621.0,187.6 Q639.0,192.7 639.0,210.7 L639.0,260.7 Q639.0,278.7 621.0,273.6 L526.0,247.0 Q508.0,242.0 508.0,224.0 L508.0,174.0 Q508.0,156.0 526.0,161.0 Z" fill="url(#gCardB)" opacity="0.93"/>
<text transform="matrix(1,0.35,0,1,573.5,219.3)" font-family="Liberation Sans, sans-serif" font-size="16.2" fill="#ffffff" text-anchor="middle" dominant-baseline="central">个人所得税APP</text>
<path d="M645.0,161.0 L740.0,187.6 Q758.0,192.7 758.0,210.7 L758.0,260.7 Q758.0,278.7 740.0,273.6 L645.0,247.0 Q627.0,242.0 627.0,224.0 L627.0,174.0 Q627.0,156.0 645.0,161.0 Z" fill="url(#gCardA)" opacity="0.93"/>
<text transform="matrix(1,0.35,0,1,692.5,207.6)" font-family="Liberation Sans, sans-serif" font-size="16.2" fill="#ffffff" text-anchor="middle" dominant-baseline="central">个税代扣代缴</text>
<text transform="matrix(1,0.35,0,1,692.5,231.1)" font-family="Liberation Sans, sans-serif" font-size="16.2" fill="#ffffff" text-anchor="middle" dominant-baseline="central">客户端</text>
<path d="M763.8,161.0 L858.8,187.6 Q876.8,192.7 876.8,210.7 L876.8,260.7 Q876.8,278.7 858.8,273.6 L763.8,247.0 Q745.8,242.0 745.8,224.0 L745.8,174.0 Q745.8,156.0 763.8,161.0 Z" fill="url(#gCardC)" opacity="0.93"/>
<text transform="matrix(1,0.35,0,1,811.3,207.6)" font-family="Liberation Sans, sans-serif" font-size="16.2" fill="#ffffff" text-anchor="middle" dominant-baseline="central">企业纳税申报</text>
<text transform="matrix(1,0.35,0,1,811.3,231.1)" font-family="Liberation Sans, sans-serif" font-size="16.2" fill="#ffffff" text-anchor="middle" dominant-baseline="central">系统</text>
<path d="M1207.3,87.5 L1301.7,113.9 Q1323.7,120.1 1323.7,142.1 L1323.7,192.1 Q1323.7,214.1 1301.7,207.9 L1207.3,181.5 Q1185.3,175.3 1185.3,153.3 L1185.3,103.3 Q1185.3,81.3 1207.3,87.5 Z" fill="#000" stroke="#66acfa" stroke-width="2.2"/>
<path d="M1327.3,87.5 L1421.7,113.9 Q1443.7,120.1 1443.7,142.1 L1443.7,192.1 Q1443.7,214.1 1421.7,207.9 L1327.3,181.5 Q1305.3,175.3 1305.3,153.3 L1305.3,103.3 Q1305.3,81.3 1327.3,87.5 Z" fill="#000" stroke="#66acfa" stroke-width="2.2"/>
<path d="M1087.1,164.0 L1181.5,190.4 Q1203.5,196.6 1203.5,218.6 L1203.5,268.6 Q1203.5,290.6 1181.5,284.4 L1087.1,258.0 Q1065.1,251.8 1065.1,229.8 L1065.1,179.8 Q1065.1,157.8 1087.1,164.0 Z" fill="#000" stroke="#66acfa" stroke-width="2.2"/>
<path d="M1207.3,164.0 L1301.7,190.4 Q1323.7,196.6 1323.7,218.6 L1323.7,268.6 Q1323.7,290.6 1301.7,284.4 L1207.3,258.0 Q1185.3,251.8 1185.3,229.8 L1185.3,179.8 Q1185.3,157.8 1207.3,164.0 Z" fill="#000" stroke="#66acfa" stroke-width="2.2"/>
<path d="M1327.3,164.0 L1421.7,190.4 Q1443.7,196.6 1443.7,218.6 L1443.7,268.6 Q1443.7,290.6 1421.7,284.4 L1327.3,258.0 Q1305.3,251.8 1305.3,229.8 L1305.3,179.8 Q1305.3,157.8 1327.3,164.0 Z" fill="#000" stroke="#66acfa" stroke-width="2.2"/>
<path d="M1449.3,164.0 L1543.7,190.4 Q1565.7,196.6 1565.7,218.6 L1565.7,268.6 Q1565.7,290.6 1543.7,284.4 L1449.3,258.0 Q1427.3,251.8 1427.3,229.8 L1427.3,179.8 Q1427.3,157.8 1449.3,164.0 Z" fill="#000" stroke="#66acfa" stroke-width="2.2"/>
<path d="M1207.0,88.3 L1302.0,114.9 Q1322.5,120.7 1322.5,141.2 L1322.5,191.7 Q1322.5,212.2 1302.0,206.4 L1207.0,179.8 Q1186.5,174.1 1186.5,153.6 L1186.5,103.1 Q1186.5,82.6 1207.0,88.3 Z" fill="#000"/>
<path d="M1327.0,88.3 L1422.0,114.9 Q1442.5,120.7 1442.5,141.2 L1442.5,191.7 Q1442.5,212.2 1422.0,206.4 L1327.0,179.8 Q1306.5,174.1 1306.5,153.6 L1306.5,103.1 Q1306.5,82.6 1327.0,88.3 Z" fill="#000"/>
<path d="M1086.8,164.8 L1181.8,191.4 Q1202.3,197.2 1202.3,217.7 L1202.3,268.2 Q1202.3,288.7 1181.8,282.9 L1086.8,256.3 Q1066.3,250.6 1066.3,230.1 L1066.3,179.6 Q1066.3,159.1 1086.8,164.8 Z" fill="#000"/>
<path d="M1207.0,164.8 L1302.0,191.4 Q1322.5,197.2 1322.5,217.7 L1322.5,268.2 Q1322.5,288.7 1302.0,282.9 L1207.0,256.3 Q1186.5,250.6 1186.5,230.1 L1186.5,179.6 Q1186.5,159.1 1207.0,164.8 Z" fill="#000"/>
<path d="M1327.0,164.8 L1422.0,191.4 Q1442.5,197.2 1442.5,217.7 L1442.5,268.2 Q1442.5,288.7 1422.0,282.9 L1327.0,256.3 Q1306.5,250.6 1306.5,230.1 L1306.5,179.6 Q1306.5,159.1 1327.0,164.8 Z" fill="#000"/>
<path d="M1449.0,164.8 L1544.0,191.4 Q1564.5,197.2 1564.5,217.7 L1564.5,268.2 Q1564.5,288.7 1544.0,282.9 L1449.0,256.3 Q1428.5,250.6 1428.5,230.1 L1428.5,179.6 Q1428.5,159.1 1449.0,164.8 Z" fill="#000"/>
<path d="M1207.0,90.5 L1302.0,117.1 Q1320.0,122.2 1320.0,140.2 L1320.0,190.2 Q1320.0,208.2 1302.0,203.1 L1207.0,176.5 Q1189.0,171.5 1189.0,153.5 L1189.0,103.5 Q1189.0,85.5 1207.0,90.5 Z" fill="url(#gCardA)" opacity="0.93"/>
<text transform="matrix(1,0.35,0,1,1254.5,148.8)" font-family="Liberation Sans, sans-serif" font-size="16.2" fill="#ffffff" text-anchor="middle" dominant-baseline="central">税政管理</text>
<path d="M1327.0,90.5 L1422.0,117.1 Q1440.0,122.2 1440.0,140.2 L1440.0,190.2 Q1440.0,208.2 1422.0,203.1 L1327.0,176.5 Q1309.0,171.5 1309.0,153.5 L1309.0,103.5 Q1309.0,85.5 1327.0,90.5 Z" fill="url(#gCardA)" opacity="0.93"/>
<text transform="matrix(1,0.35,0,1,1374.5,137.1)" font-family="Liberation Sans, sans-serif" font-size="16.2" fill="#ffffff" text-anchor="middle" dominant-baseline="central">信用与风险</text>
<text transform="matrix(1,0.35,0,1,1374.5,160.6)" font-family="Liberation Sans, sans-serif" font-size="16.2" fill="#ffffff" text-anchor="middle" dominant-baseline="central">管理</text>
<path d="M1086.8,167.0 L1181.8,193.6 Q1199.8,198.7 1199.8,216.7 L1199.8,266.7 Q1199.8,284.7 1181.8,279.6 L1086.8,253.0 Q1068.8,248.0 1068.8,230.0 L1068.8,180.0 Q1068.8,162.0 1086.8,167.0 Z" fill="url(#gCardA)" opacity="0.93"/>
<text transform="matrix(1,0.35,0,1,1134.3,225.3)" font-family="Liberation Sans, sans-serif" font-size="16.2" fill="#ffffff" text-anchor="middle" dominant-baseline="central">税务稽查</text>
<path d="M1207.0,167.0 L1302.0,193.6 Q1320.0,198.7 1320.0,216.7 L1320.0,266.7 Q1320.0,284.7 1302.0,279.6 L1207.0,253.0 Q1189.0,248.0 1189.0,230.0 L1189.0,180.0 Q1189.0,162.0 1207.0,167.0 Z" fill="url(#gCardB)" opacity="0.93"/>
<text transform="matrix(1,0.35,0,1,1254.5,213.6)" font-family="Liberation Sans, sans-serif" font-size="16.2" fill="#ffffff" text-anchor="middle" dominant-baseline="central">纳税服务与</text>
<text transform="matrix(1,0.35,0,1,1254.5,237.1)" font-family="Liberation Sans, sans-serif" font-size="16.2" fill="#ffffff" text-anchor="middle" dominant-baseline="central">征收管理</text>
<path d="M1327.0,167.0 L1422.0,193.6 Q1440.0,198.7 1440.0,216.7 L1440.0,266.7 Q1440.0,284.7 1422.0,279.6 L1327.0,253.0 Q1309.0,248.0 1309.0,230.0 L1309.0,180.0 Q1309.0,162.0 1327.0,167.0 Z" fill="url(#gCardA)" opacity="0.93"/>
<text transform="matrix(1,0.35,0,1,1374.5,213.6)" font-family="Liberation Sans, sans-serif" font-size="16.2" fill="#ffffff" text-anchor="middle" dominant-baseline="central">大企业税务</text>
<text transform="matrix(1,0.35,0,1,1374.5,237.1)" font-family="Liberation Sans, sans-serif" font-size="16.2" fill="#ffffff" text-anchor="middle" dominant-baseline="central">审计</text>
<path d="M1449.0,167.0 L1544.0,193.6 Q1562.0,198.7 1562.0,216.7 L1562.0,266.7 Q1562.0,284.7 1544.0,279.6 L1449.0,253.0 Q1431.0,248.0 1431.0,230.0 L1431.0,180.0 Q1431.0,162.0 1449.0,167.0 Z" fill="url(#gCardC)" opacity="0.93"/>
<text transform="matrix(1,0.35,0,1,1496.5,225.3)" font-family="Liberation Sans, sans-serif" font-size="16.2" fill="#ffffff" text-anchor="middle" dominant-baseline="central">决策支持</text>
</svg></body></html>
